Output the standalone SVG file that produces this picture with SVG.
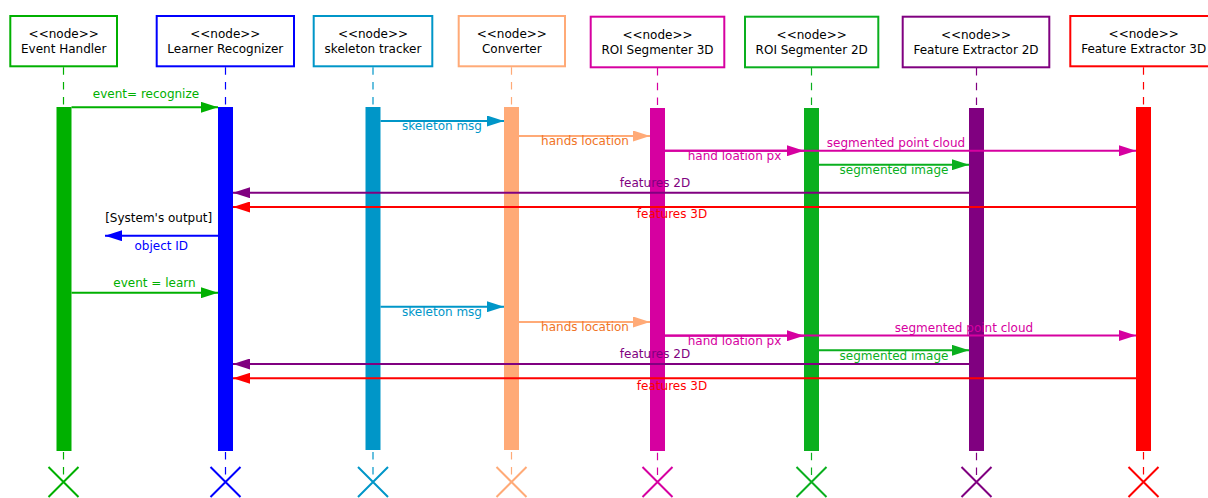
<svg xmlns="http://www.w3.org/2000/svg" width="1208" height="498" viewBox="0 0 1208 498">
  <style>
    text { font-family: "DejaVu Sans", "Liberation Sans", sans-serif; font-size: 12px; text-anchor: middle; }
    .box { fill: #ffffff; stroke-width: 2; }
    .life { fill: none; stroke-width: 1.2; stroke-dasharray: 7.5 7.3; }
    .msg { fill: none; stroke-width: 2; }
    .end { fill: none; stroke-width: 2; }
    .c-eh { stroke: #00b000; }
    .c-lr { stroke: #0000ff; }
    .c-st { stroke: #0096c8; }
    .c-cv { stroke: #ffaa77; }
    .c-r3 { stroke: #d600a0; }
    .c-r2 { stroke: #0aaf1e; }
    .c-f2 { stroke: #800080; }
    .c-f3 { stroke: #ff0000; }
  </style>
  <defs>
    <marker id="ah-eh" markerUnits="userSpaceOnUse" markerWidth="17" markerHeight="11" refX="17" refY="5.5" orient="auto"><path d="M0,0 L17,5.5 L0,11 z" fill="#00b000"/></marker>
    <marker id="ah-lr" markerUnits="userSpaceOnUse" markerWidth="17" markerHeight="11" refX="17" refY="5.5" orient="auto"><path d="M0,0 L17,5.5 L0,11 z" fill="#0000ff"/></marker>
    <marker id="ah-st" markerUnits="userSpaceOnUse" markerWidth="17" markerHeight="11" refX="17" refY="5.5" orient="auto"><path d="M0,0 L17,5.5 L0,11 z" fill="#0096c8"/></marker>
    <marker id="ah-cv" markerUnits="userSpaceOnUse" markerWidth="17" markerHeight="11" refX="17" refY="5.5" orient="auto"><path d="M0,0 L17,5.5 L0,11 z" fill="#ffaa77"/></marker>
    <marker id="ah-r3" markerUnits="userSpaceOnUse" markerWidth="17" markerHeight="11" refX="17" refY="5.5" orient="auto"><path d="M0,0 L17,5.5 L0,11 z" fill="#d600a0"/></marker>
    <marker id="ah-r2" markerUnits="userSpaceOnUse" markerWidth="17" markerHeight="11" refX="17" refY="5.5" orient="auto"><path d="M0,0 L17,5.5 L0,11 z" fill="#0aaf1e"/></marker>
    <marker id="ah-f2" markerUnits="userSpaceOnUse" markerWidth="17" markerHeight="11" refX="17" refY="5.5" orient="auto"><path d="M0,0 L17,5.5 L0,11 z" fill="#800080"/></marker>
    <marker id="ah-f3" markerUnits="userSpaceOnUse" markerWidth="17" markerHeight="11" refX="17" refY="5.5" orient="auto"><path d="M0,0 L17,5.5 L0,11 z" fill="#ff0000"/></marker>
  </defs>

  <rect x="0" y="0" width="1208" height="498" fill="#ffffff"/>

  <!-- participants: header box, dashed lifeline, activation bar, end cross -->
  <g id="event-handler">
    <line class="life c-eh" x1="63.5" y1="67.3" x2="63.5" y2="482"/>
    <rect class="box c-eh" x="10.3" y="16" width="106.7" height="50.3"/>
    <text x="63.7" y="38">&lt;&lt;node&gt;&gt;</text>
    <text x="63.7" y="53">Event Handler</text>
    <rect x="56.5" y="107" width="15" height="344" fill="#00b000"/>
    <path class="end c-eh" d="M48.5,467 L78.5,497 M78.5,467 L48.5,497"/>
  </g>

  <g id="learner-recognizer">
    <line class="life c-lr" x1="225.5" y1="67.3" x2="225.5" y2="482"/>
    <rect class="box c-lr" x="156.7" y="16" width="137.3" height="50.3"/>
    <text x="225.3" y="38">&lt;&lt;node&gt;&gt;</text>
    <text x="225.3" y="53">Learner Recognizer</text>
    <rect x="218" y="107" width="15" height="344" fill="#0000ff"/>
    <path class="end c-lr" d="M210.5,467 L240.5,497 M240.5,467 L210.5,497"/>
  </g>

  <g id="skeleton-tracker">
    <line class="life c-st" x1="373" y1="67.3" x2="373" y2="482"/>
    <rect class="box c-st" x="313.7" y="16" width="118.6" height="50.3"/>
    <text x="373" y="38">&lt;&lt;node&gt;&gt;</text>
    <text x="373" y="53">skeleton tracker</text>
    <rect x="365.5" y="107" width="15" height="343" fill="#0096c8"/>
    <path class="end c-st" d="M358,467 L388,497 M388,467 L358,497"/>
  </g>

  <g id="converter">
    <line class="life c-cv" x1="511.5" y1="67.3" x2="511.5" y2="482"/>
    <rect class="box c-cv" x="458.7" y="16" width="106.3" height="50.3"/>
    <text x="511.8" y="38">&lt;&lt;node&gt;&gt;</text>
    <text x="511.8" y="53">Converter</text>
    <rect x="504" y="107" width="15" height="343" fill="#ffaa77"/>
    <path class="end c-cv" d="M496.5,467 L526.5,497 M526.5,467 L496.5,497"/>
  </g>

  <g id="roi-segmenter-3d">
    <line class="life c-r3" x1="657.5" y1="68" x2="657.5" y2="482"/>
    <rect class="box c-r3" x="590.7" y="16.7" width="133.6" height="50.6"/>
    <text x="657.5" y="38.5">&lt;&lt;node&gt;&gt;</text>
    <text x="657.5" y="53.5">ROI Segmenter 3D</text>
    <rect x="650" y="108" width="15" height="343" fill="#d600a0"/>
    <path class="end c-r3" d="M642.5,467 L672.5,497 M672.5,467 L642.5,497"/>
  </g>

  <g id="roi-segmenter-2d">
    <line class="life c-r2" x1="811.5" y1="68" x2="811.5" y2="482"/>
    <rect class="box c-r2" x="745" y="16.7" width="133.3" height="50.6"/>
    <text x="811.7" y="38.5">&lt;&lt;node&gt;&gt;</text>
    <text x="811.7" y="53.5">ROI Segmenter 2D</text>
    <rect x="804" y="108" width="15" height="343" fill="#0aaf1e"/>
    <path class="end c-r2" d="M796.5,467 L826.5,497 M826.5,467 L796.5,497"/>
  </g>

  <g id="feature-extractor-2d">
    <line class="life c-f2" x1="976.5" y1="68" x2="976.5" y2="482"/>
    <rect class="box c-f2" x="902.7" y="16.7" width="146.6" height="50.6"/>
    <text x="976" y="38.5">&lt;&lt;node&gt;&gt;</text>
    <text x="976" y="53.5">Feature Extractor 2D</text>
    <rect x="969" y="108" width="15" height="343" fill="#800080"/>
    <path class="end c-f2" d="M961.5,467 L991.5,497 M991.5,467 L961.5,497"/>
  </g>

  <g id="feature-extractor-3d">
    <line class="life c-f3" x1="1143.5" y1="67.3" x2="1143.5" y2="482"/>
    <rect class="box c-f3" x="1070.3" y="16" width="146.4" height="50.3"/>
    <text x="1143.7" y="38">&lt;&lt;node&gt;&gt;</text>
    <text x="1143.7" y="53">Feature Extractor 3D</text>
    <rect x="1136" y="107" width="15" height="344" fill="#ff0000"/>
    <path class="end c-f3" d="M1128.5,467 L1158.5,497 M1158.5,467 L1128.5,497"/>
  </g>

  <!-- messages -->
  <g id="connectors">
    <!-- recognition pass -->
    <line class="msg c-eh" x1="71.5" y1="107.3" x2="218" y2="107.3" marker-end="url(#ah-eh)"/>
    <line class="msg c-st" x1="380.5" y1="121" x2="504" y2="121" marker-end="url(#ah-st)"/>
    <line class="msg c-cv" x1="519" y1="136" x2="650" y2="136" marker-end="url(#ah-cv)"/>
    <line class="msg c-r3" x1="665" y1="150.7" x2="804" y2="150.7" marker-end="url(#ah-r3)"/>
    <line class="msg c-r3" x1="665" y1="150.7" x2="1136" y2="150.7" marker-end="url(#ah-r3)"/>
    <line class="msg c-r2" x1="819" y1="164.7" x2="969" y2="164.7" marker-end="url(#ah-r2)"/>
    <line class="msg c-f2" x1="969" y1="192.7" x2="233" y2="192.7" marker-end="url(#ah-f2)"/>
    <line class="msg c-f3" x1="1136" y1="207" x2="233" y2="207" marker-end="url(#ah-f3)"/>
    <line class="msg c-lr" x1="218" y1="235.7" x2="105" y2="235.7" marker-end="url(#ah-lr)"/>
    <!-- learning pass -->
    <line class="msg c-eh" x1="71.5" y1="292.7" x2="218" y2="292.7" marker-end="url(#ah-eh)"/>
    <line class="msg c-st" x1="380.5" y1="306.7" x2="504" y2="306.7" marker-end="url(#ah-st)"/>
    <line class="msg c-cv" x1="519" y1="322" x2="650" y2="322" marker-end="url(#ah-cv)"/>
    <line class="msg c-r3" x1="665" y1="335.7" x2="804" y2="335.7" marker-end="url(#ah-r3)"/>
    <line class="msg c-r3" x1="665" y1="335.5" x2="1136" y2="335.5" marker-end="url(#ah-r3)"/>
    <line class="msg c-r2" x1="819" y1="350.3" x2="969" y2="350.3" marker-end="url(#ah-r2)"/>
    <line class="msg c-f2" x1="969" y1="364" x2="233" y2="364" marker-end="url(#ah-f2)"/>
    <line class="msg c-f3" x1="1136" y1="378.3" x2="233" y2="378.3" marker-end="url(#ah-f3)"/>
  </g>

  <!-- message labels -->
  <g id="labels">
    <text x="146" y="97.5" fill="#00b000">event= recognize</text>
    <text x="442" y="130" fill="#0096c8">skeleton msg</text>
    <text x="585" y="145" fill="#f07426">hands location</text>
    <text x="734.5" y="160" fill="#d600a0">hand loation px</text>
    <text x="896" y="147" fill="#d600a0">segmented point cloud</text>
    <text x="894" y="174" fill="#0aaf1e">segmented image</text>
    <text x="655" y="186.7" fill="#800080">features 2D</text>
    <text x="672" y="218.3" fill="#ff0000">features 3D</text>
    <text x="158.7" y="222.3" fill="#000000">[System's output]</text>
    <text x="161.3" y="250.3" fill="#0000ff">object ID</text>

    <text x="154.5" y="286.5" fill="#00b000">event = learn</text>
    <text x="442" y="315.7" fill="#0096c8">skeleton msg</text>
    <text x="585" y="331" fill="#f07426">hands location</text>
    <text x="734.5" y="345" fill="#d600a0">hand loation px</text>
    <text x="964" y="331.7" fill="#d600a0">segmented point cloud</text>
    <text x="894" y="359.6" fill="#0aaf1e">segmented image</text>
    <text x="655" y="358" fill="#800080">features 2D</text>
    <text x="672" y="389.6" fill="#ff0000">features 3D</text>
  </g>
</svg>
